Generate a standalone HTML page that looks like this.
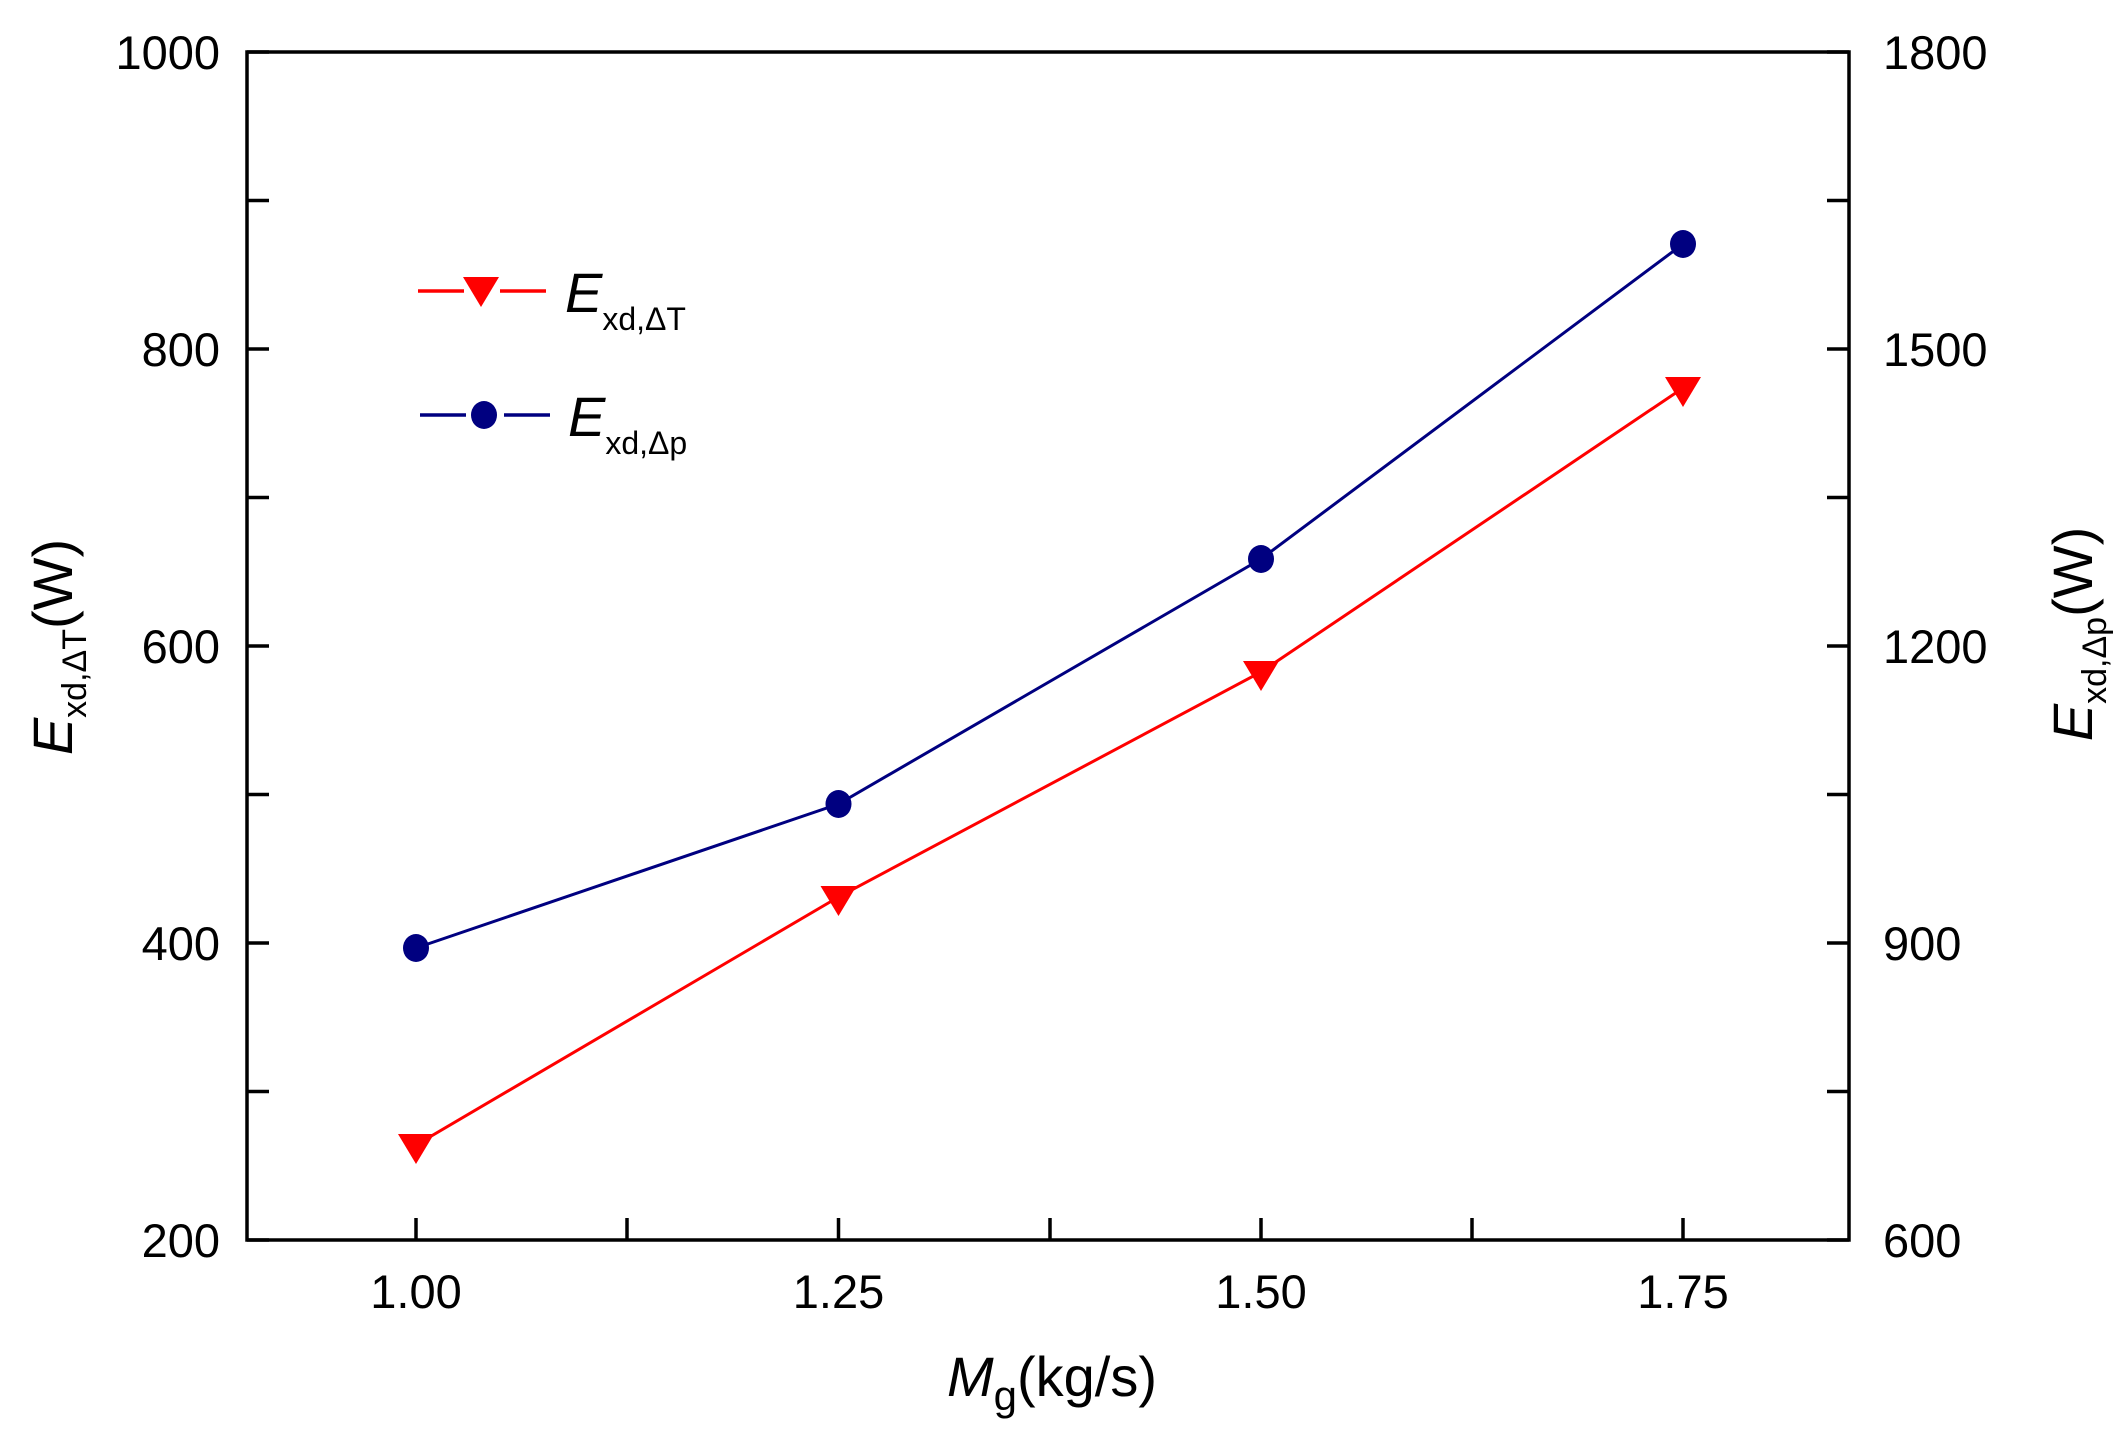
<!DOCTYPE html>
<html><head><meta charset="utf-8"><style>
html,body{margin:0;padding:0;background:#fff;}
svg text{font-family:"Liberation Sans",Arial,sans-serif;fill:#000;}
</style></head><body>
<svg width="2126" height="1440" viewBox="0 0 2126 1440" xmlns="http://www.w3.org/2000/svg">
<rect width="2126" height="1440" fill="#fff"/>
<g stroke="#000" stroke-width="3.5" fill="none">
<rect x="247" y="52" width="1602" height="1188"/>
<path d="M247 1240h22M247 1091.5h22M247 943h22M247 794.5h22M247 646h22M247 497.5h22M247 349h22M247 200.5h22M247 52h22"/>
<path d="M1849 1240h-22M1849 1091.5h-22M1849 943h-22M1849 794.5h-22M1849 646h-22M1849 497.5h-22M1849 349h-22M1849 200.5h-22M1849 52h-22"/>
<path d="M416 1240v-22M627 1240v-22M838.5 1240v-22M1050 1240v-22M1261 1240v-22M1472 1240v-22M1683 1240v-22"/>
</g>
<g font-size="47" text-anchor="end">
<text x="220" y="1257">200</text>
<text x="220" y="960">400</text>
<text x="220" y="663">600</text>
<text x="220" y="366">800</text>
<text x="220" y="69">1000</text>
</g>
<g font-size="47" text-anchor="start">
<text x="1883" y="1257">600</text>
<text x="1883" y="960">900</text>
<text x="1883" y="663">1200</text>
<text x="1883" y="366">1500</text>
<text x="1883" y="69">1800</text>
</g>
<g font-size="47" text-anchor="middle">
<text x="416" y="1308">1.00</text>
<text x="838.5" y="1308">1.25</text>
<text x="1261" y="1308">1.50</text>
<text x="1683" y="1308">1.75</text>
</g>
<text x="1052" y="1396" font-size="56" text-anchor="middle"><tspan font-style="italic">M</tspan><tspan font-size="42" dy="14">g</tspan><tspan dy="-14">(kg/s)</tspan></text>
<text transform="translate(72,647) rotate(-90)" font-size="56" text-anchor="middle"><tspan font-style="italic">E</tspan><tspan font-size="34" dy="14">xd,ΔT</tspan><tspan dy="-14">(W)</tspan></text>
<text transform="translate(2092,634) rotate(-90)" font-size="56" text-anchor="middle"><tspan font-style="italic">E</tspan><tspan font-size="34" dy="14">xd,Δp</tspan><tspan dy="-14">(W)</tspan></text>
<polyline points="416,1145 838.5,897 1261,672 1683,388" fill="none" stroke="#ff0000" stroke-width="3"/>
<polyline points="416,948 838.5,804 1261,559 1683,244" fill="none" stroke="#000080" stroke-width="3"/>
<g fill="#ff0000">
<path d="M398 1134h36l-18 30z"/>
<path d="M820.5 886h36l-18 30z"/>
<path d="M1243 661h36l-18 30z"/>
<path d="M1665 377h36l-18 30z"/>
</g>
<g fill="#000080">
<ellipse cx="416" cy="948" rx="13" ry="14"/>
<ellipse cx="838.5" cy="804" rx="13" ry="14"/>
<ellipse cx="1261" cy="559" rx="13" ry="14"/>
<ellipse cx="1683" cy="244" rx="13" ry="14"/>
</g>
<path d="M418 291h46M500 291h46" stroke="#ff0000" stroke-width="3.5"/>
<path d="M463 277h36l-18 30z" fill="#ff0000"/>
<path d="M420 415h46M504 415h46" stroke="#000080" stroke-width="3.5"/>
<ellipse cx="484" cy="415" rx="13" ry="14" fill="#000080"/>
<text x="565" y="312" font-size="56"><tspan font-style="italic">E</tspan><tspan font-size="32" dy="18">xd,ΔT</tspan></text>
<text x="568" y="436" font-size="56"><tspan font-style="italic">E</tspan><tspan font-size="32" dy="18">xd,Δp</tspan></text>
</svg>
</body></html>
